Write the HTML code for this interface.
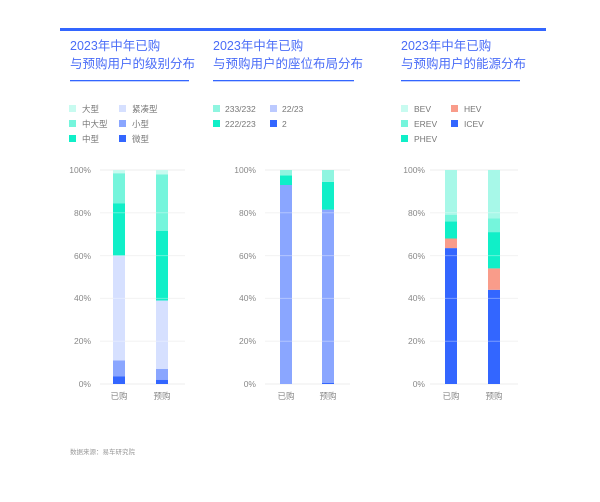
<!DOCTYPE html>
<html><head><meta charset="utf-8"><style>
body{margin:0;background:#fff;}
svg{display:block;font-family:"Liberation Sans","Noto Sans CJK SC",sans-serif;}
.t{fill:#4a6cf7;font-size:12.5px;}
.l{fill:#777;font-size:8.5px;}
.a{fill:#888;font-size:8.5px;}
.g{stroke:#eee;stroke-width:1;}
.o{stroke:#fff;stroke-opacity:.35;stroke-width:1;}
</style></head><body>
<svg width="600" height="502" viewBox="0 0 600 502">
<rect x="60" y="28" width="486" height="3" fill="#3366ff"/>
<!-- titles -->
<text class="t" x="70" y="50">2023年中年已购</text><text class="t" x="70" y="68">与预购用户的级别分布</text>
<rect x="70" y="80" width="119" height="1.3" fill="#3366ff"/>
<text class="t" x="213" y="50">2023年中年已购</text><text class="t" x="213" y="68">与预购用户的座位布局分布</text>
<rect x="213" y="80" width="141" height="1.3" fill="#3366ff"/>
<text class="t" x="401" y="50">2023年中年已购</text><text class="t" x="401" y="68">与预购用户的能源分布</text>
<rect x="401" y="80" width="119" height="1.3" fill="#3366ff"/>
<!-- legends -->
<g class="l">
<rect x="69" y="105" width="7" height="7" fill="#c8fbf0"/><text x="82" y="112">大型</text>
<rect x="69" y="120" width="7" height="7" fill="#75f5dc"/><text x="82" y="127">中大型</text>
<rect x="69" y="135" width="7" height="7" fill="#10efc8"/><text x="82" y="142">中型</text>
<rect x="119" y="105" width="7" height="7" fill="#d6e0ff"/><text x="132" y="112">紧凑型</text>
<rect x="119" y="120" width="7" height="7" fill="#8aa6ff"/><text x="132" y="127">小型</text>
<rect x="119" y="135" width="7" height="7" fill="#3366ff"/><text x="132" y="142">微型</text>
<rect x="213" y="105" width="7" height="7" fill="#8ff5e0"/><text x="225" y="112">233/232</text>
<rect x="213" y="120" width="7" height="7" fill="#10efc8"/><text x="225" y="127">222/223</text>
<rect x="270" y="105" width="7" height="7" fill="#bccaff"/><text x="282" y="112">22/23</text>
<rect x="270" y="120" width="7" height="7" fill="#3366ff"/><text x="282" y="127">2</text>
<rect x="401" y="105" width="7" height="7" fill="#c8fbf0"/><text x="414" y="112">BEV</text>
<rect x="401" y="120" width="7" height="7" fill="#75f5dc"/><text x="414" y="127">EREV</text>
<rect x="401" y="135" width="7" height="7" fill="#10efc8"/><text x="414" y="142">PHEV</text>
<rect x="451" y="105" width="7" height="7" fill="#f99c8a"/><text x="464" y="112">HEV</text>
<rect x="451" y="120" width="7" height="7" fill="#3366ff"/><text x="464" y="127">ICEV</text>
</g>
<!-- chart1 -->
<g class="g"><line x1="100" x2="185" y1="170" y2="170"/><line x1="100" x2="185" y1="212.8" y2="212.8"/><line x1="100" x2="185" y1="255.6" y2="255.6"/><line x1="100" x2="185" y1="298.4" y2="298.4"/><line x1="100" x2="185" y1="341.2" y2="341.2"/><line x1="100" x2="185" y1="384" y2="384"/></g>
<g class="a" text-anchor="end"><text x="91" y="173">100%</text><text x="91" y="216">80%</text><text x="91" y="259">60%</text><text x="91" y="301">40%</text><text x="91" y="344">20%</text><text x="91" y="387">0%</text></g>
<rect x="113" y="376.5" width="12" height="7.5" fill="#3366ff"/><rect x="113" y="360.5" width="12" height="16" fill="#8aa6ff"/><rect x="113" y="255.6" width="12" height="104.9" fill="#d6e0ff"/><rect x="113" y="203.2" width="12" height="52.4" fill="#10efc8"/><rect x="113" y="173.2" width="12" height="30" fill="#75f5dc"/><rect x="113" y="170" width="12" height="3.2" fill="#c8fbf0"/>
<rect x="156" y="379.7" width="12" height="4.3" fill="#3366ff"/><rect x="156" y="369" width="12" height="10.7" fill="#8aa6ff"/><rect x="156" y="300.5" width="12" height="68.5" fill="#d6e0ff"/><rect x="156" y="231" width="12" height="69.5" fill="#10efc8"/><rect x="156" y="174.3" width="12" height="56.7" fill="#75f5dc"/><rect x="156" y="170" width="12" height="4.3" fill="#c8fbf0"/>
<g class="o"><line x1="100" x2="185" y1="212.8" y2="212.8"/><line x1="100" x2="185" y1="255.6" y2="255.6"/><line x1="100" x2="185" y1="298.4" y2="298.4"/><line x1="100" x2="185" y1="341.2" y2="341.2"/></g>
<g class="a" text-anchor="middle"><text x="119" y="399">已购</text><text x="162" y="399">预购</text></g>
<!-- chart2 -->
<g class="g"><line x1="265" x2="350" y1="170" y2="170"/><line x1="265" x2="350" y1="212.8" y2="212.8"/><line x1="265" x2="350" y1="255.6" y2="255.6"/><line x1="265" x2="350" y1="298.4" y2="298.4"/><line x1="265" x2="350" y1="341.2" y2="341.2"/><line x1="265" x2="350" y1="384" y2="384"/></g>
<g class="a" text-anchor="end"><text x="256" y="173">100%</text><text x="256" y="216">80%</text><text x="256" y="259">60%</text><text x="256" y="301">40%</text><text x="256" y="344">20%</text><text x="256" y="387">0%</text></g>
<rect x="280" y="185" width="12" height="199" fill="#8aa6ff"/><rect x="280" y="175.4" width="12" height="9.6" fill="#10efc8"/><rect x="280" y="170" width="12" height="5.4" fill="#8ff5e0"/>
<rect x="322" y="383" width="12" height="1" fill="#3366ff"/><rect x="322" y="209.6" width="12" height="173.4" fill="#8aa6ff"/><rect x="322" y="181.8" width="12" height="27.8" fill="#10efc8"/><rect x="322" y="170" width="12" height="11.8" fill="#8ff5e0"/>
<g class="o"><line x1="265" x2="350" y1="212.8" y2="212.8"/><line x1="265" x2="350" y1="255.6" y2="255.6"/><line x1="265" x2="350" y1="298.4" y2="298.4"/><line x1="265" x2="350" y1="341.2" y2="341.2"/></g>
<g class="a" text-anchor="middle"><text x="286" y="399">已购</text><text x="328" y="399">预购</text></g>
<!-- chart3 -->
<g class="g"><line x1="430" x2="518" y1="170" y2="170"/><line x1="430" x2="518" y1="212.8" y2="212.8"/><line x1="430" x2="518" y1="255.6" y2="255.6"/><line x1="430" x2="518" y1="298.4" y2="298.4"/><line x1="430" x2="518" y1="341.2" y2="341.2"/><line x1="430" x2="518" y1="384" y2="384"/></g>
<g class="a" text-anchor="end"><text x="425" y="173">100%</text><text x="425" y="216">80%</text><text x="425" y="259">60%</text><text x="425" y="301">40%</text><text x="425" y="344">20%</text><text x="425" y="387">0%</text></g>
<rect x="445" y="248.1" width="12" height="135.9" fill="#3366ff"/><rect x="445" y="238.5" width="12" height="9.6" fill="#f99c8a"/><rect x="445" y="221.4" width="12" height="17.1" fill="#10efc8"/><rect x="445" y="215" width="12" height="6.4" fill="#75f5dc"/><rect x="445" y="170" width="12" height="45" fill="#a7f8e8"/>
<rect x="488" y="289.8" width="12" height="94.2" fill="#3366ff"/><rect x="488" y="268.4" width="12" height="21.4" fill="#f99c8a"/><rect x="488" y="232.1" width="12" height="36.3" fill="#10efc8"/><rect x="488" y="218.2" width="12" height="13.9" fill="#75f5dc"/><rect x="488" y="170" width="12" height="48.2" fill="#a7f8e8"/>
<g class="o"><line x1="430" x2="518" y1="212.8" y2="212.8"/><line x1="430" x2="518" y1="255.6" y2="255.6"/><line x1="430" x2="518" y1="298.4" y2="298.4"/><line x1="430" x2="518" y1="341.2" y2="341.2"/></g>
<g class="a" text-anchor="middle"><text x="451" y="399">已购</text><text x="494" y="399">预购</text></g>
<text x="70" y="454" fill="#999" font-size="6.5">数据来源：易车研究院</text>
</svg>
</body></html>
